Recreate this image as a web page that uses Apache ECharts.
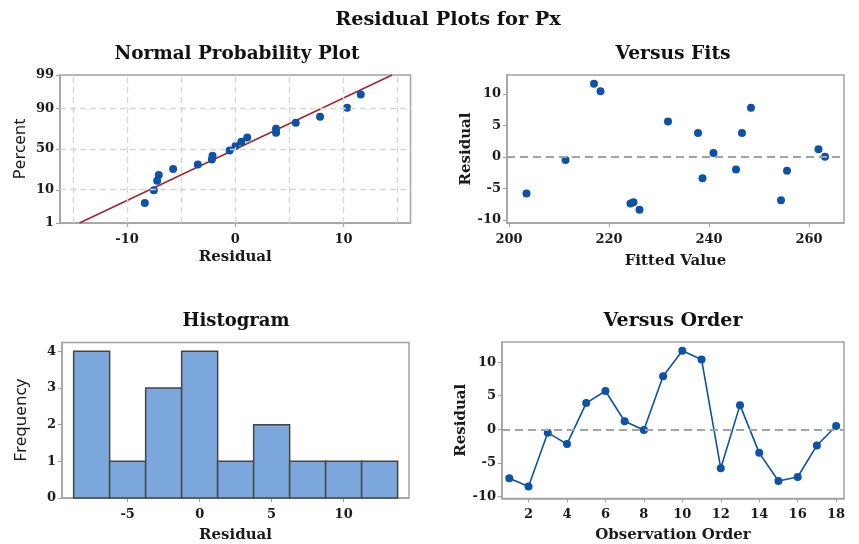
<!DOCTYPE html>
<html>
<head>
<meta charset="utf-8">
<script src="https://cdn.jsdelivr.net/npm/echarts@6/dist/echarts.min.js"></script>
<style>
html,body{margin:0;padding:0;background:#fff;}
#c{width:859px;height:544px;}
</style>
</head>
<body>
<div id="c"></div>
<script>
// ---------- data ----------
// Normal probability plot: sorted residuals and their plotted percents
const nppResid = [-8.36,-7.53,-7.22,-7.07,-5.74,-3.46,-2.16,-2.10,-0.52,0.03,0.56,1.11,3.77,3.77,5.59,7.84,10.34,11.6];
const nppPct   = [4.5,9.8,16,20.6,26.6,31.2,37,41.7,48,53.7,59,64,69.5,73.7,79.5,84.4,90.2,95.7];
const nppLineX = [-14.4, 14.5];
const nppLinePct = [1, 99];
const nppPctTicks = [1, 10, 50, 90, 99];
const nppGridPct = [10, 50, 90];
const nppGridX = [-15, -10, -5, 0, 5, 10, 15];
const nppXTicks = [-10, 0, 10];

// Versus fits
const fitsX = [203.5,211.3,217.0,218.3,224.3,224.9,226.1,231.8,237.8,238.7,240.9,245.4,246.6,248.4,254.4,255.6,261.9,263.2];
const fitsResid = [-5.8,-0.5,11.6,10.4,-7.4,-7.2,-8.4,5.6,3.8,-3.4,0.6,-2.0,3.8,7.8,-6.9,-2.2,1.2,0.0];
const fitsXTicks = [200, 220, 240, 260];
const residTicks = [-10, -5, 0, 5, 10];

// Histogram
const binStart = [-8.75,-6.25,-3.75,-1.25,1.25,3.75,6.25,8.75,11.25];
const binEnd   = [-6.25,-3.75,-1.25,1.25,3.75,6.25,8.75,11.25,13.75];
const binCount = [4,1,3,4,1,2,1,1,1];
const histXTicks = [-5, 0, 5, 10];
const histYTicks = [0, 1, 2, 3, 4];

// Versus order
const obsOrder = [1,2,3,4,5,6,7,8,9,10,11,12,13,14,15,16,17,18];
const orderResid = [-7.3,-8.5,-0.5,-2.2,3.9,5.7,1.2,-0.1,7.9,11.7,10.4,-5.8,3.6,-3.5,-7.7,-7.1,-2.4,0.5];
const orderXTicks = [2,4,6,8,10,12,14,16,18];

// ---------- probability scale (normal quantile) ----------
function probit(p){
  const a=[-3.969683028665376e+01,2.209460984245205e+02,-2.759285104469687e+02,1.383577518672690e+02,-3.066479806614716e+01,2.506628277459239e+00];
  const b=[-5.447609879822406e+01,1.615858368580409e+02,-1.556989798598866e+02,6.680131188771972e+01,-1.328068155288572e+01];
  const c=[-7.784894002430293e-03,-3.223964580411365e-01,-2.400758277161838e+00,-2.549732539343734e+00,4.374664141464968e+00,2.938163982698783e+00];
  const d=[7.784695709041462e-03,3.224671290700398e-01,2.445134137142996e+00,3.754408661907416e+00];
  const pl=0.02425, ph=1-pl; let q,r;
  if(p<pl){q=Math.sqrt(-2*Math.log(p));return (((((c[0]*q+c[1])*q+c[2])*q+c[3])*q+c[4])*q+c[5])/((((d[0]*q+d[1])*q+d[2])*q+d[3])*q+1);}
  if(p<=ph){q=p-0.5;r=q*q;return (((((a[0]*r+a[1])*r+a[2])*r+a[3])*r+a[4])*r+a[5])*q/(((((b[0]*r+b[1])*r+b[2])*r+b[3])*r+b[4])*r+1);}
  q=Math.sqrt(-2*Math.log(1-p));return -(((((c[0]*q+c[1])*q+c[2])*q+c[3])*q+c[4])*q+c[5])/((((d[0]*q+d[1])*q+d[2])*q+d[3])*q+1);
}
const z = p => probit(p/100);
const zTicks = nppPctTicks.map(z);

// ---------- style ----------
const AX = '#a3a3a3';
const BLUE = '#0b52a8';
const SERIF = 'DejaVu Serif';
const labelStyle = {color:'#1a1a1a', fontFamily:SERIF, fontWeight:'bold', fontSize:13};
const serifName = {color:'#1a1a1a', fontFamily:SERIF, fontWeight:'bold', fontSize:15};
const sansName = {color:'#1a1a1a', fontFamily:'Noto Sans', fontWeight:'normal', fontSize:17};

function axis(opts){
  return {
    type:'value',
    gridIndex: opts.grid,
    min: opts.min, max: opts.max,
    name: opts.name, nameLocation:'middle', nameGap: opts.nameGap,
    nameTextStyle: opts.nameStyle || serifName,
    axisLine:{show:true, onZero:false, lineStyle:{color:AX, width:1.5}},
    axisTick:{show:true, length:4, inside:false, customValues: opts.ticks, lineStyle:{color:AX, width:1.2}},
    axisLabel:Object.assign({margin: opts.margin, customValues: opts.ticks}, labelStyle, opts.fmt ? {formatter: opts.fmt} : {}),
    splitLine:{show:false}
  };
}

const gridBox = {show:true, borderColor:AX, borderWidth:1.5, backgroundColor:'#fff', containLabel:false};

function title(text, x, y, size){
  return {type:'text', x:x, y:y, style:{text:text, textAlign:'center', textVerticalAlign:'middle', fill:'#111', font:'bold ' + size + 'px "DejaVu Serif"'}};
}

const option = {
  animation:false,
  backgroundColor:'#fff',
  grid:[
    Object.assign({left:60, top:75, width:350.5, height:148}, gridBox),
    Object.assign({left:507, top:75, width:337, height:148}, gridBox),
    Object.assign({left:62, top:342.5, width:347, height:156.5}, gridBox),
    Object.assign({left:502, top:342, width:342, height:156.5}, gridBox)
  ],
  xAxis:[
    axis({grid:0, min:-16.2, max:16.2, ticks:nppXTicks, name:'Residual', nameGap:27, margin:10}),
    axis({grid:1, min:199.6, max:267, ticks:fitsXTicks, name:'Fitted Value', nameGap:31, margin:10}),
    axis({grid:2, min:-9.56, max:14.54, ticks:histXTicks, name:'Residual', nameGap:30, margin:10}),
    axis({grid:3, min:0.62, max:18.41, ticks:orderXTicks, name:'Observation Order', nameGap:29, margin:10})
  ],
  yAxis:[
    axis({grid:0, min:z(1), max:z(99), ticks:zTicks, name:'Percent', nameGap:31, margin:6, nameStyle:sansName,
      fmt: v => { let bi=0, bd=1e9; zTicks.forEach((t,i)=>{const d=Math.abs(t-v); if(d<bd){bd=d;bi=i;}}); return String(nppPctTicks[bi]); }}),
    axis({grid:1, min:-10.5, max:13, ticks:residTicks, name:'Residual', nameGap:30, margin:6}),
    axis({grid:2, min:0, max:4.24, ticks:histYTicks, name:'Frequency', nameGap:32, margin:6, nameStyle:sansName}),
    axis({grid:3, min:-10.3, max:13, ticks:residTicks, name:'Residual', nameGap:30, margin:6})
  ],
  series:[
    // NPP grid lines
    {
      type:'line', xAxisIndex:0, yAxisIndex:0, data:[], silent:true, z:1,
      markLine:{
        silent:true, symbol:['none','none'], animation:false,
        label:{show:false},
        lineStyle:{color:'#d6d6d6', width:1.3, type:[6,4]},
        data: nppGridX.map(v=>({xAxis:v})).concat(nppGridPct.map(p=>({yAxis:z(p)})))
      }
    },
    // NPP fitted line
    {
      type:'line', xAxisIndex:0, yAxisIndex:0, z:3, symbol:'none', silent:true,
      lineStyle:{color:'#a3272b', width:1.6},
      data: nppLineX.map((x,i)=>[x, z(nppLinePct[i])])
    },
    // NPP points
    {
      type:'scatter', xAxisIndex:0, yAxisIndex:0, z:4, symbolSize:8,
      itemStyle:{color:BLUE, opacity:1},
      data: nppResid.map((x,i)=>[x, z(nppPct[i])])
    },
    // Versus fits
    {
      type:'scatter', xAxisIndex:1, yAxisIndex:1, z:4, symbolSize:8,
      itemStyle:{color:BLUE, opacity:1},
      data: fitsX.map((x,i)=>[x, fitsResid[i]]),
      markLine:{
        silent:true, symbol:['none','none'], label:{show:false},
        lineStyle:{color:'#a3a3a3', width:2, type:[8,5]},
        data:[{yAxis:0}]
      }
    },
    // Histogram
    {
      type:'custom', xAxisIndex:2, yAxisIndex:2, z:3,
      data: binCount.map((c,i)=>[binStart[i], binEnd[i], c]),
      encode:{x:[0,1], y:2},
      renderItem:(params, api)=>{
        const p0 = api.coord([api.value(0), api.value(2)]);
        const p1 = api.coord([api.value(1), 0]);
        return {
          type:'rect',
          shape:{x:p0[0], y:p0[1], width:p1[0]-p0[0], height:p1[1]-p0[1]},
          style:{fill:'#7ba7dc', stroke:'#454545', lineWidth:1.5}
        };
      }
    },
    // Versus order
    {
      type:'line', xAxisIndex:3, yAxisIndex:3, z:4, symbol:'circle', symbolSize:8,
      lineStyle:{color:BLUE, width:1.6}, itemStyle:{color:BLUE, opacity:1},
      data: obsOrder.map((x,i)=>[x, orderResid[i]]),
      markLine:{
        silent:true, symbol:['none','none'], label:{show:false},
        lineStyle:{color:'#a3a3a3', width:2, type:[8,5]},
        data:[{yAxis:0}]
      }
    }
  ],
  graphic:[
    title('Residual Plots for Px', 448, 20, 19.3),
    title('Normal Probability Plot', 237, 54, 18.4),
    title('Versus Fits', 673, 54, 18.7),
    title('Histogram', 236, 321, 18),
    title('Versus Order', 673, 321, 19)
  ]
};

const chart = echarts.init(document.getElementById('c'), null, {renderer:'canvas'});
chart.setOption(option);
</script>
</body>
</html>
